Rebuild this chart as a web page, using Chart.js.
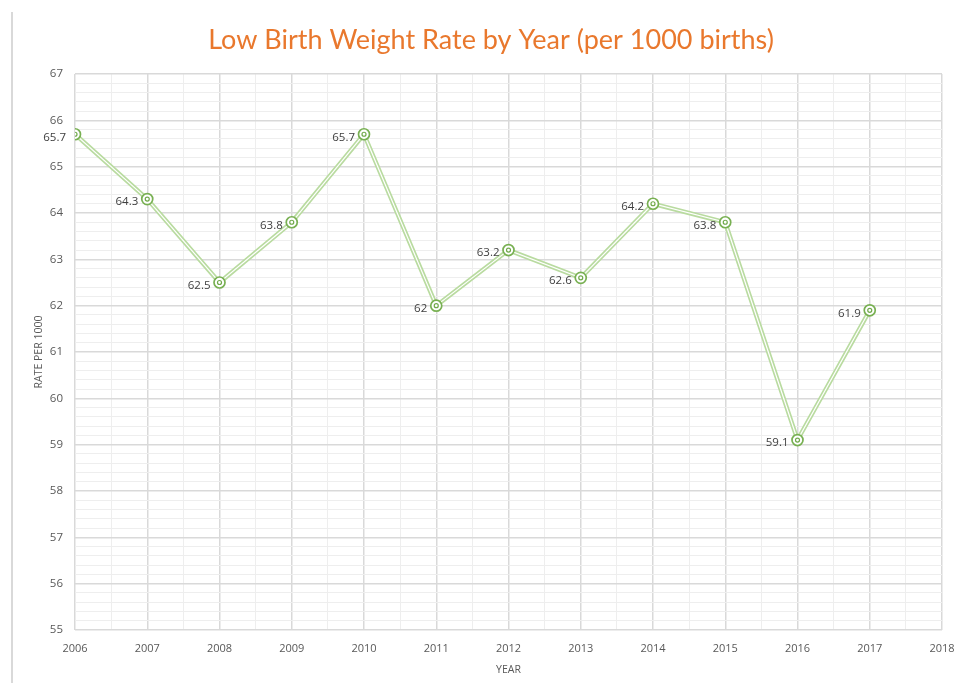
<!DOCTYPE html>
<html>
<head>
<meta charset="utf-8">
<script src="https://cdn.jsdelivr.net/npm/chart.js@4.4.1/dist/chart.umd.min.js"></script>
<style>
html,body{margin:0;padding:0;background:#fff;}
#wrap{width:955px;height:683px;position:relative;}
</style>
</head>
<body>
<div id="wrap"><canvas id="c" width="955" height="683"></canvas></div>
<script>
const years = [2006, 2007, 2008, 2009, 2010, 2011, 2012, 2013, 2014, 2015, 2016, 2017];
const rates = [65.7, 64.3, 62.5, 63.8, 65.7, 62, 63.2, 62.6, 64.2, 63.8, 59.1, 61.9];
const labels = ['65.7', '64.3', '62.5', '63.8', '65.7', '62', '63.2', '62.6', '64.2', '63.8', '59.1', '61.9'];
const titleText = 'Low Birth Weight Rate by Year (per 1000 births)';
const xTitle = 'YEAR';
const yTitle = 'RATE PER 1000';

const pts = years.map((y, i) => ({x: y, y: rates[i]}));
const FONT = "'Open Sans', 'DejaVu Sans', sans-serif";
const TFONT = "Lato, 'Open Sans', sans-serif";

const framePlugin = {
  id: 'frame',
  beforeDraw(chart) {
    const ctx = chart.ctx;
    ctx.save();
    ctx.fillStyle = '#fff';
    ctx.fillRect(0, 0, chart.width, chart.height);
    ctx.strokeStyle = '#d9d9d9';
    ctx.lineWidth = 2;
    ctx.beginPath();
    ctx.moveTo(12, 12);
    ctx.lineTo(12, chart.height);
    ctx.stroke();
    ctx.font = "27px " + TFONT;
    ctx.fillStyle = '#e9782d';
    ctx.textAlign = 'center';
    ctx.textBaseline = 'alphabetic';
    ctx.fillText(titleText, 491, 49);
    ctx.restore();
  }
};

const labelPlugin = {
  id: 'dlabels',
  afterDatasetsDraw(chart) {
    const meta = chart.getDatasetMeta(0);
    const ctx = chart.ctx;
    ctx.save();
    ctx.font = "11.5px " + FONT;
    ctx.fillStyle = '#404040';
    ctx.textAlign = 'right';
    ctx.textBaseline = 'middle';
    meta.data.forEach((p, i) => {
      ctx.fillText(labels[i], p.x - 9, p.y + 3);
    });
    ctx.restore();
  }
};

const isInt = v => Math.abs(v - Math.round(v)) < 1e-6;

new Chart(document.getElementById('c'), {
  type: 'line',
  data: {
    datasets: [
      {
        data: pts,
        showLine: false,
        pointRadius: 2,
        pointBorderWidth: 1.2,
        pointBorderColor: '#70a94a',
        pointBackgroundColor: '#ffffff'
      },
      {
        data: pts,
        borderColor: '#ffffff',
        borderWidth: 1.2,
        pointRadius: 5.5,
        pointBorderWidth: 1.7,
        pointBorderColor: '#78b052',
        pointBackgroundColor: '#ffffff',
        tension: 0
      },
      {
        data: pts,
        borderColor: '#b9dba0',
        borderWidth: 4.5,
        pointRadius: 0,
        tension: 0
      }
    ]
  },
  options: {
    responsive: false,
    animation: false,
    devicePixelRatio: 1,
    layout: {padding: {left: 0, right: 13, top: 74, bottom: 0}},
    plugins: {
      legend: {display: false},
      tooltip: {enabled: false},
      title: {display: false}
    },
    scales: {
      x: {
        type: 'linear',
        min: 2006,
        max: 2018,
        afterFit(s) { s.height = 53; s.paddingRight = 0; s.paddingLeft = 0; },
        ticks: {
          stepSize: 0.5,
          autoSkip: false,
          maxRotation: 0,
          padding: 12,
          color: '#595959',
          font: {family: FONT, size: 11},
          callback: v => isInt(v) ? String(v) : ''
        },
        grid: {
          drawTicks: false,
          color: c => isInt(c.tick.value) ? '#d9d9d9' : '#eeeeee',
          lineWidth: c => isInt(c.tick.value) ? 1.5 : 1
        },
        border: {display: false},
        title: {
          display: true,
          text: xTitle,
          color: '#595959',
          font: {family: FONT, size: 10.5},
          padding: {top: 4, bottom: 7}
        }
      },
      y: {
        type: 'linear',
        min: 55,
        max: 67,
        afterFit(s) { s.width = 75; s.paddingTop = 0; s.paddingBottom = 0; },
        ticks: {
          stepSize: 0.2,
          autoSkip: false,
          padding: 12,
          color: '#595959',
          font: {family: FONT, size: 11.5},
          callback: v => isInt(v) ? String(Math.round(v)) : ''
        },
        grid: {
          drawTicks: false,
          color: c => isInt(c.tick.value) ? '#d9d9d9' : '#eeeeee',
          lineWidth: c => isInt(c.tick.value) ? 1.5 : 1
        },
        border: {display: false},
        title: {
          display: true,
          text: yTitle,
          color: '#595959',
          font: {family: FONT, size: 10.5},
          padding: {top: 33, bottom: 4}
        }
      }
    }
  },
  plugins: [framePlugin, labelPlugin]
});
</script>
</body>
</html>
